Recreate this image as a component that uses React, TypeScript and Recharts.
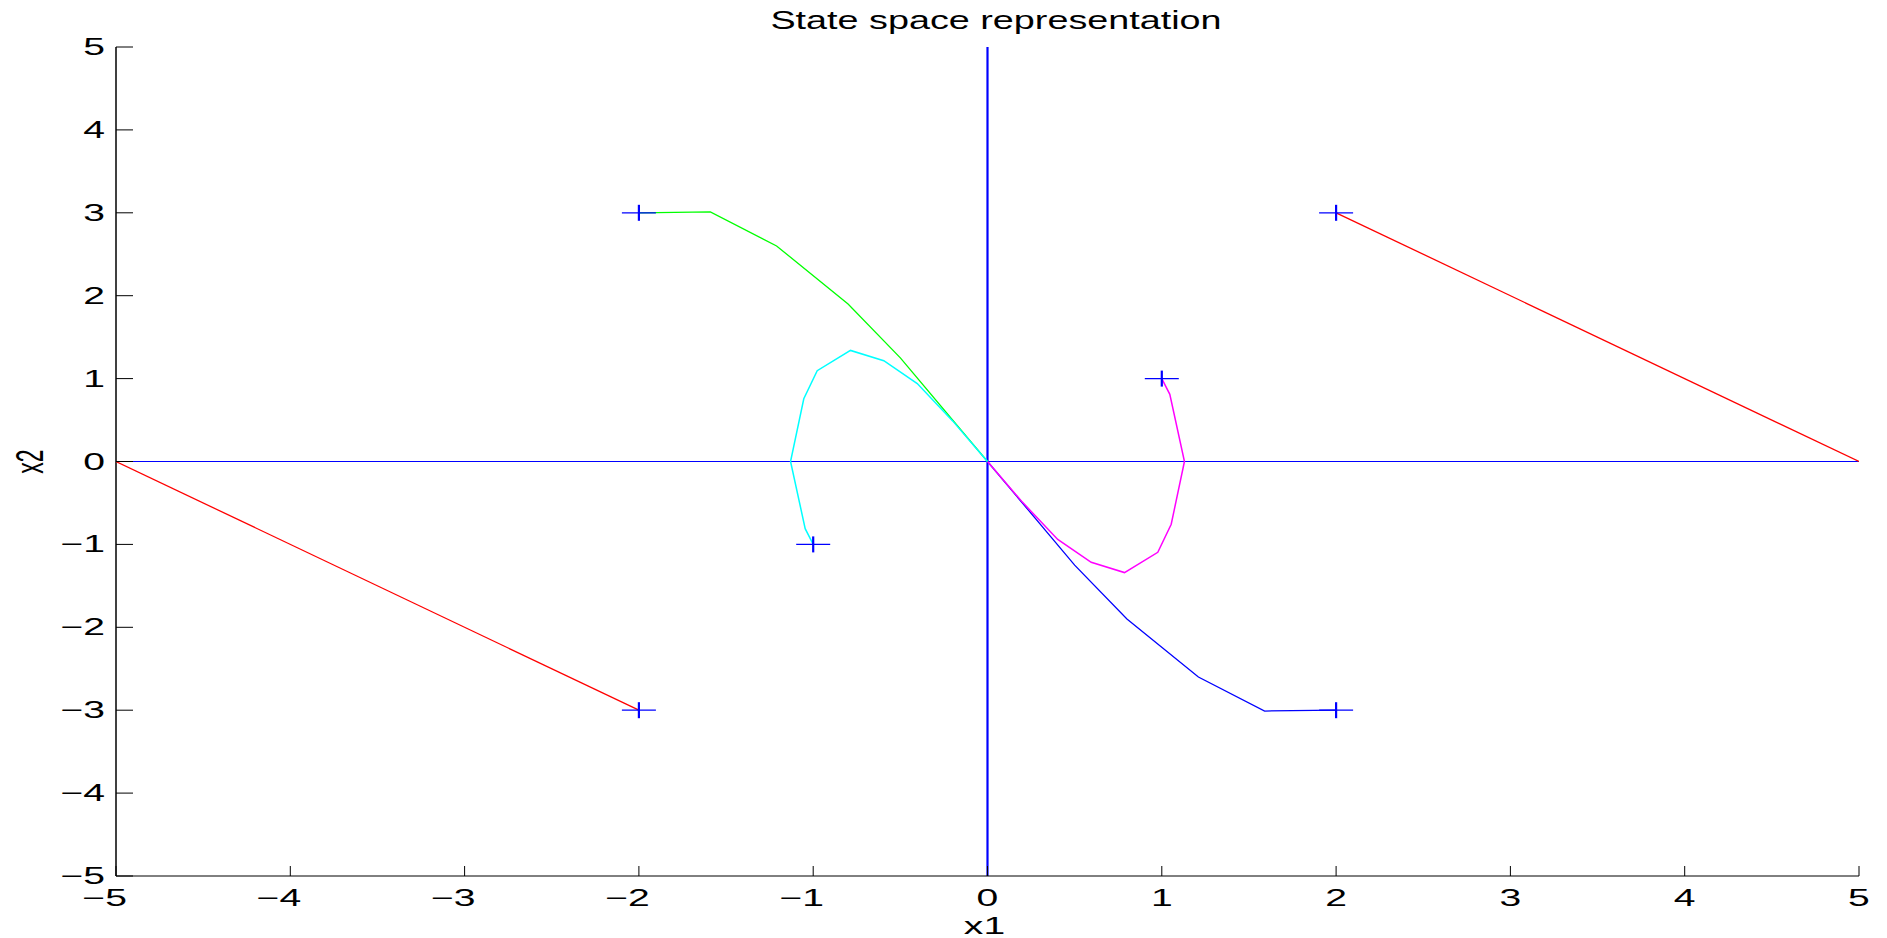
import React from 'react';
import { ScatterChart, Scatter, XAxis, YAxis, ReferenceLine } from 'recharts';

// Axis tick values
const xTicks = [-5, -4, -3, -2, -1, 0, 1, 2, 3, 4, 5];
const yTicks = [-5, -4, -3, -2, -1, 0, 1, 2, 3, 4, 5];

// Trajectories
const redUpper = [
  { x: 2, y: 3 },
  { x: 5, y: 0 },
];
const redLower = [
  { x: -2, y: -3 },
  { x: -5, y: 0 },
];
const blueTraj = [
  { x: 2, y: -3 },
  { x: 1.59, y: -3.01 },
  { x: 1.21, y: -2.6 },
  { x: 0.8, y: -1.9 },
  { x: 0.5, y: -1.25 },
  { x: 0, y: 0 },
];
const greenTraj = [
  { x: -2, y: 3 },
  { x: -1.59, y: 3.01 },
  { x: -1.21, y: 2.6 },
  { x: -0.8, y: 1.9 },
  { x: -0.5, y: 1.25 },
  { x: 0, y: 0 },
];
const magentaTraj = [
  { x: 1, y: 1 },
  { x: 1.046, y: 0.81 },
  { x: 1.13, y: 0.0 },
  { x: 1.054, y: -0.757 },
  { x: 0.977, y: -1.095 },
  { x: 0.786, y: -1.34 },
  { x: 0.595, y: -1.216 },
  { x: 0.403, y: -0.94 },
  { x: 0.2, y: -0.49 },
  { x: 0, y: 0 },
];
const cyanTraj = [
  { x: -1, y: -1 },
  { x: -1.046, y: -0.81 },
  { x: -1.13, y: 0.0 },
  { x: -1.054, y: 0.757 },
  { x: -0.977, y: 1.095 },
  { x: -0.786, y: 1.34 },
  { x: -0.595, y: 1.216 },
  { x: -0.403, y: 0.94 },
  { x: -0.2, y: 0.49 },
  { x: 0, y: 0 },
];
// Start points marked with "+"
const startPoints = [
  { x: -2, y: 3 },
  { x: 2, y: 3 },
  { x: 1, y: 1 },
  { x: -1, y: -1 },
  { x: -2, y: -3 },
  { x: 2, y: -3 },
];

const FONT = '"Liberation Sans", Arial, Helvetica, sans-serif';
const TICK_FS = 23;
const SX = 1.7;

const fmt = (v: number) => (v < 0 ? '\u2212' + Math.abs(v) : String(v));

const XTick = (props: any) => {
  const { x, y, payload } = props;
  const half = 0.278 * TICK_FS * SX;
  return (
    <g>
      <line x1={x} x2={x} y1={y} y2={y - 10} stroke="#000" strokeWidth={1} />
      <text
        transform={`translate(${x + half},${y + 30}) scale(${SX},1)`}
        textAnchor="end"
        fontSize={TICK_FS}
        fontFamily={FONT}
        fill="#000"
      >
        {fmt(payload.value)}
      </text>
    </g>
  );
};

const YTick = (props: any) => {
  const { x, y, payload } = props;
  return (
    <g>
      <line x1={x} x2={x + 17} y1={y} y2={y} stroke="#000" strokeWidth={1} />
      <text
        transform={`translate(${x - 11},${y + 8}) scale(${SX},1)`}
        textAnchor="end"
        fontSize={TICK_FS}
        fontFamily={FONT}
        fill="#000"
      >
        {fmt(payload.value)}
      </text>
    </g>
  );
};

const XLabel = (props: any) => {
  const vb = props.viewBox || {};
  const cx = vb.x + vb.width / 2 - 3;
  return (
    <text
      transform={`translate(${cx},934) scale(${SX},1)`}
      textAnchor="middle"
      fontSize={TICK_FS}
      fontFamily={FONT}
      fill="#000"
    >
      x1
    </text>
  );
};

const YLabel = (props: any) => {
  const vb = props.viewBox || {};
  const cy = vb.y + vb.height / 2;
  return (
    <text
      transform={`translate(43,${cy}) rotate(-90) scale(1,${SX})`}
      textAnchor="middle"
      fontSize={TICK_FS}
      fontFamily={FONT}
      fill="#000"
    >
      x2
    </text>
  );
};

const NoDot = () => <g />;

const PlusMarker = (props: any) => {
  const { cx, cy } = props;
  return (
    <g>
      <line x1={cx - 17} x2={cx + 17} y1={cy} y2={cy} stroke="#0000ff" strokeWidth={1.3} />
      <line x1={cx} x2={cx} y1={cy - 8} y2={cy + 8} stroke="#0000ff" strokeWidth={2.2} />
    </g>
  );
};

export default function App() {
  return (
    <div style={{ position: 'absolute', left: 0, top: 0, width: 1887, height: 938, background: '#fff' }}>
      <div
        style={{
          position: 'absolute',
          left: 996,
          top: 8,
          fontFamily: FONT,
          fontSize: 25,
          lineHeight: '25px',
          whiteSpace: 'nowrap',
          color: '#000',
          transform: 'translateX(-50%) scaleX(1.51)',
        }}
      >
        State space representation
      </div>
      <ScatterChart width={1887} height={938} margin={{ top: 47, right: 28, bottom: 0, left: 0 }}>
        <XAxis
          type="number"
          dataKey="x"
          domain={[-5, 5]}
          ticks={xTicks}
          allowDataOverflow
          height={62}
          tickSize={0}
          tickMargin={0}
          tickLine={false}
          axisLine={{ stroke: '#000', strokeWidth: 1 }}
          tick={XTick}
          interval={0}
          label={<XLabel />}
        />
        <YAxis
          type="number"
          dataKey="y"
          domain={[-5, 5]}
          ticks={yTicks}
          allowDataOverflow
          width={116}
          tickSize={0}
          tickMargin={0}
          tickLine={false}
          axisLine={{ stroke: '#000', strokeWidth: 1.5 }}
          tick={YTick}
          interval={0}
          label={<YLabel />}
        />
        <ReferenceLine y={0} stroke="#0000ff" strokeWidth={1.2} />
        <ReferenceLine x={0} stroke="#0000ff" strokeWidth={2.2} />
        <Scatter data={redUpper} line={{ stroke: '#ff0000', strokeWidth: 1.3 }} shape={NoDot} isAnimationActive={false} />
        <Scatter data={redLower} line={{ stroke: '#ff0000', strokeWidth: 1.3 }} shape={NoDot} isAnimationActive={false} />
        <Scatter data={blueTraj} line={{ stroke: '#0000ff', strokeWidth: 1.3 }} shape={NoDot} isAnimationActive={false} />
        <Scatter data={magentaTraj} line={{ stroke: '#ff00ff', strokeWidth: 1.5 }} shape={NoDot} isAnimationActive={false} />
        <Scatter data={greenTraj} line={{ stroke: '#00ff00', strokeWidth: 1.3 }} shape={NoDot} isAnimationActive={false} />
        <Scatter data={cyanTraj} line={{ stroke: '#00ffff', strokeWidth: 1.5 }} shape={NoDot} isAnimationActive={false} />
        <Scatter data={startPoints} shape={PlusMarker} isAnimationActive={false} />
      </ScatterChart>
    </div>
  );
}
